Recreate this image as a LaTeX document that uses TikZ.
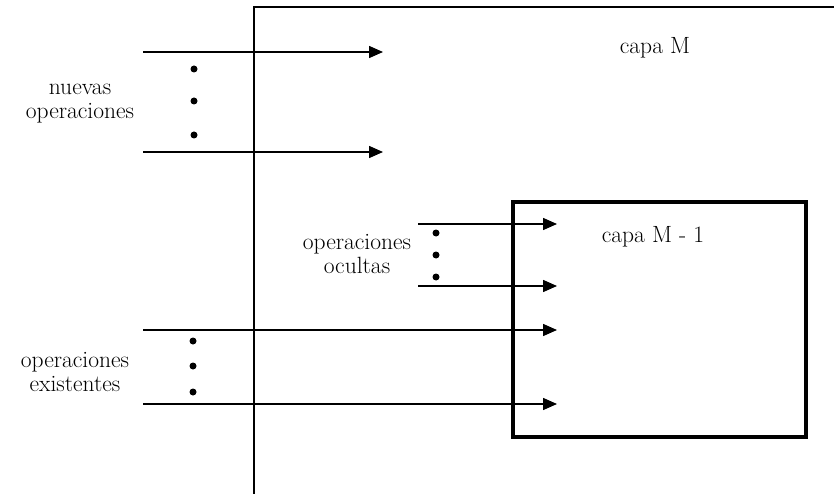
\documentclass[tikz,border=0pt]{standalone}
\usetikzlibrary{arrows.meta}
\begin{document}
\begin{tikzpicture}[x=1pt,y=-1pt,
  conn/.style={line width=1.5pt,-{Triangle[length=14pt,width=12pt]}},
  wall/.style={line width=1.5pt},
  layerbox/.style={draw,line width=3.2pt,inner sep=0pt,minimum width=293pt,minimum height=235pt},
  dotmark/.style={circle,fill=black,inner sep=0pt,minimum size=7pt},
  lbl/.style={font=\fontsize{23.5}{24}\selectfont,align=center,inner sep=0pt}]
\useasboundingbox (0,0) rectangle (834,494);

% outer layer M (extends beyond the picture)
\coordinate (oBL) at (254,494);
\coordinate (oTL) at (254,7);
\coordinate (oTR) at (834,7);
\draw[wall] (oBL) -- (oTL) -- (oTR);
\node[lbl] (capaM) at (655,48) {capa M};

% inner layer M-1
\node[layerbox] (inner) at (659.5,319.5) {};
\node[lbl] (capaM1) at (653,237) {capa M - 1};

% new operations
\coordinate (n1s) at (143,52);  \coordinate (n1e) at (383,52);
\coordinate (n2s) at (143,152); \coordinate (n2e) at (383,152);
\draw[conn] (n1s) -- (n1e);
\draw[conn] (n2s) -- (n2e);
\node[dotmark] (nd1) at (194,69) {};
\node[dotmark] (nd2) at (194,101) {};
\node[dotmark] (nd3) at (194,135) {};
\node[lbl] (nuevas) at (80,104) {nuevas\\operaciones};

% hidden operations
\coordinate (h1s) at (418,224); \coordinate (h1e) at (557,224);
\coordinate (h2s) at (418,286); \coordinate (h2e) at (557,286);
\draw[conn] (h1s) -- (h1e);
\draw[conn] (h2s) -- (h2e);
\node[dotmark] (hd1) at (436,233) {};
\node[dotmark] (hd2) at (436,255) {};
\node[dotmark] (hd3) at (436,277) {};
\node[lbl] (ocultas) at (357,254) {operaciones\\ocultas};

% existing operations
\coordinate (e1s) at (143,330); \coordinate (e1e) at (557,330);
\coordinate (e2s) at (143,404); \coordinate (e2e) at (557,404);
\draw[conn] (e1s) -- (e1e);
\draw[conn] (e2s) -- (e2e);
\node[dotmark] (ed1) at (193,341) {};
\node[dotmark] (ed2) at (193,366) {};
\node[dotmark] (ed3) at (193,392) {};
\node[lbl] (existentes) at (75,372) {operaciones\\existentes};
\end{tikzpicture}
\end{document}
